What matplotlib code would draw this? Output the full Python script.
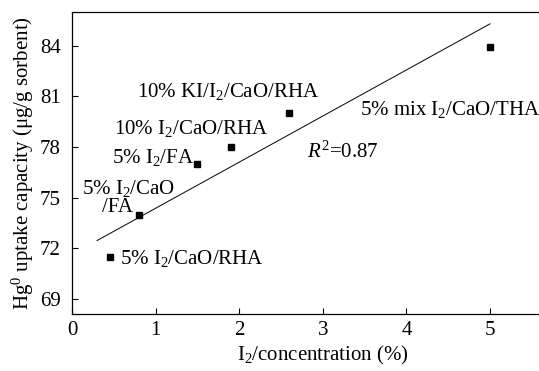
import matplotlib
matplotlib.use("Agg")
import matplotlib.pyplot as plt
import numpy as np

plt.rcParams['font.family'] = ['Liberation Serif', 'DejaVu Serif']
plt.rcParams['mathtext.fontset'] = 'custom'
plt.rcParams['mathtext.rm'] = 'Liberation Serif'
plt.rcParams['mathtext.it'] = 'Liberation Serif:italic'
plt.rcParams['mathtext.bf'] = 'Liberation Serif:bold'

# I2 concentration (%) and Hg0 uptake capacity (ug/g sorbent)
conc = [0.45, 0.8, 1.5, 1.9, 2.6, 5.0]
uptake = [71.5, 74.0, 77.0, 78.0, 80.0, 83.9]

# linear trend line
fit_slope = 2.73
fit_intercept = 71.65
fit_range = [0.3, 5.0]
r_squared = 0.87

sorbent_labels = [
    ("5% I$_2$/CaO/RHA", 0.57, 71.4),
    ("5% I$_2$/CaO", 0.12, 75.55),
    ("/FA", 0.36, 74.4),
    ("5% I$_2$/FA", 0.48, 77.4),
    ("10% I$_2$/CaO/RHA", 0.5, 79.1),
    ("10% KI/I$_2$/CaO/RHA", 0.78, 81.3),
    ("5% mix I$_2$/CaO/THA", 3.45, 80.2),
]

x_ticks = [0, 1, 2, 3, 4, 5]
y_ticks = [69, 72, 75, 78, 81, 84]

fig = plt.figure(figsize=(5.39, 3.71), dpi=100)
ax = fig.add_axes([0.1336, 0.1528, 0.9306, 0.8148])

ax.plot(conc, uptake, 's', color='black', markersize=5, zorder=3)
fx = np.array(fit_range)
ax.plot(fx, fit_slope * fx + fit_intercept, '-', color='black', linewidth=0.7)

for txt, x, y in sorbent_labels:
    ax.text(x, y, txt, fontsize=15, ha='left', va='center')
ax.text(2.81, 77.7, f"$R^2$={r_squared}", fontsize=15, ha='left', va='center')

ax.set_xlim(0, 6)
ax.set_ylim(68.1, 86)
ax.set_xticks(x_ticks)
ax.set_yticks(y_ticks)
ax.tick_params(direction='in', length=4, width=0.8, labelsize=15)
ax.tick_params(axis='y', pad=8)
ax.tick_params(axis='x', pad=5)
for s in ax.spines.values():
    s.set_linewidth(0.9)

ax.set_xlabel("I$_2$/concentration (%)", fontsize=15, labelpad=3)
ax.set_ylabel("Hg$^0$ uptake capacity (\u03bcg/g sorbent)", fontsize=15, labelpad=3)

fig.savefig("out.png", dpi=100)
